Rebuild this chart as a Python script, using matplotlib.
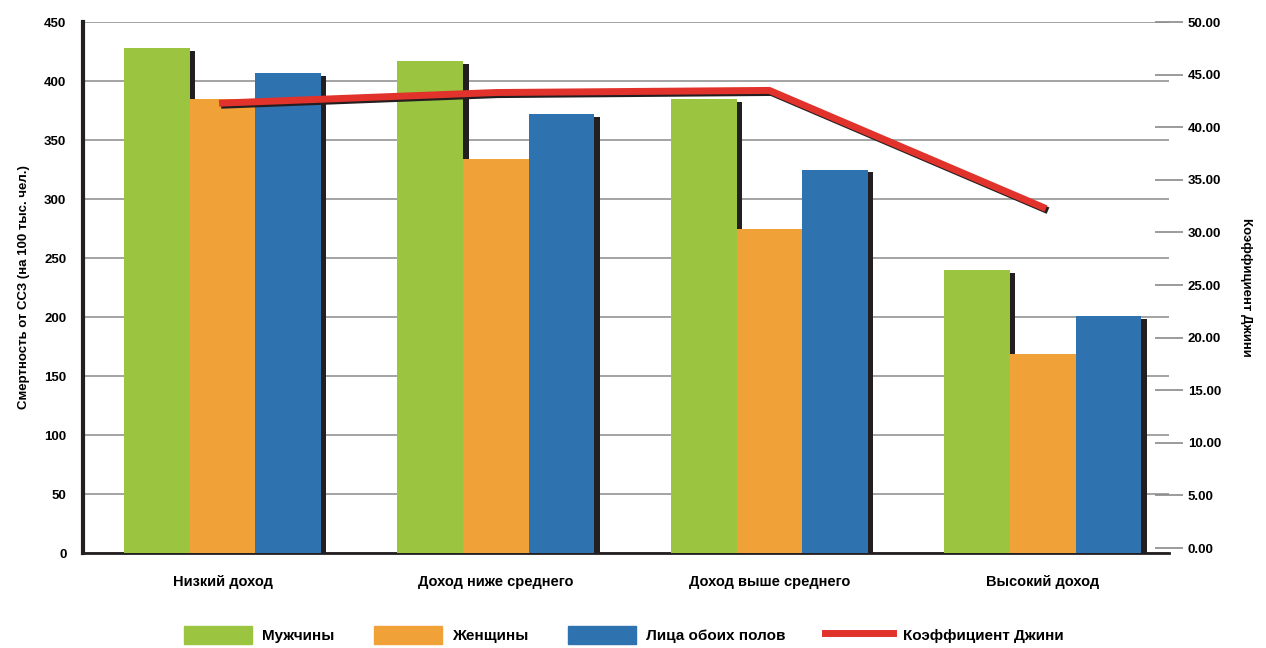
import numpy as np
import matplotlib
matplotlib.use('Agg')
from matplotlib import pyplot as plt
from matplotlib import patheffects as pe
from matplotlib.patches import Patch
from matplotlib.lines import Line2D

plt.rcParams['font.family'] = ['Liberation Sans Narrow', 'Liberation Sans', 'DejaVu Sans']
plt.rcParams['font.weight'] = 'bold'

# data
categories = ['Низкий доход', 'Доход ниже среднего', 'Доход выше среднего', 'Высокий доход']
men = [428, 417, 385, 240]
women = [385, 334, 275, 169]
both = [407, 372, 325, 201]
gini = [42.3, 43.3, 43.5, 32.4]
series_names = ['Мужчины', 'Женщины', 'Лица обоих полов', 'Коэффициент Джини']
left_ticks = np.arange(0, 451, 50)
right_ticks = np.arange(0, 51, 5)

colors = ['#9bc441', '#f0a238', '#2e72b0']
red = '#e1322b'

fig = plt.figure(figsize=(12.66, 6.48), dpi=100)
ax = fig.add_axes([0.0656, 0.1466, 0.8574, 0.8194])

x = np.arange(len(categories))
w = 0.24
shadow = [pe.SimplePatchShadow(offset=(4, -2), shadow_rgbFace='#231f20', alpha=1.0), pe.Normal()]
for i, (vals, c) in enumerate(zip([men, women, both], colors)):
    bars = ax.bar(x + (i - 1) * w, vals, width=w, color=c, zorder=3 + i)
    for b in bars:
        b.set_path_effects(shadow)

ax.set_xlim(-0.51, 3.46)
ax.set_ylim(0, 450)
ax.set_yticks(left_ticks)
ax.set_yticklabels([str(v) for v in left_ticks], fontsize=9.5, fontweight='bold')
ax.grid(axis='y', color='#8a8a8a', lw=1.1, zorder=0)
ax.set_xticks(x)
ax.set_xticklabels(categories, fontsize=10.5, fontweight='bold')
ax.tick_params(axis='x', length=0, pad=16)
ax.tick_params(axis='y', length=0, pad=12)
for s in ['top', 'right']:
    ax.spines[s].set_visible(False)
ax.spines['left'].set_linewidth(3)
ax.spines['bottom'].set_linewidth(2)
ax.spines['left'].set_color('#231f20')
ax.spines['bottom'].set_color('#231f20')
ax.set_ylabel('Смертность от ССЗ (на 100 тыс. чел.)', fontsize=9.5, fontweight='bold', labelpad=10)

ax2 = ax.twinx()
ax2.set_ylim(-0.47, 50)
ax2.set_yticks(right_ticks)
ax2.set_yticklabels(['%.2f' % v for v in right_ticks], fontsize=9.5, fontweight='bold')
ax2.tick_params(axis='y', direction='inout', length=20, width=1.2, color='#8a8a8a', pad=4)
for s in ax2.spines.values():
    s.set_visible(False)
ax2.plot(x, gini, color=red, lw=5, zorder=10,
         path_effects=[pe.SimpleLineShadow(offset=(1.5, -1.5), shadow_color='#231f20', alpha=1.0), pe.Normal()])
ax2.set_ylabel('Коэффициент Джини', fontsize=9.5, fontweight='bold', rotation=270, labelpad=22)

handles = [Patch(color=c) for c in colors] + [Line2D([], [], color=red, lw=5)]
fig.legend(handles, series_names, loc='center', bbox_to_anchor=(0.493, 0.02), ncol=4, frameon=False,
           handlelength=4.4, handleheight=1.4, columnspacing=2.6, handletextpad=0.7,
           prop={'weight': 'bold', 'size': 11})

fig.savefig('out.png', dpi=100)
